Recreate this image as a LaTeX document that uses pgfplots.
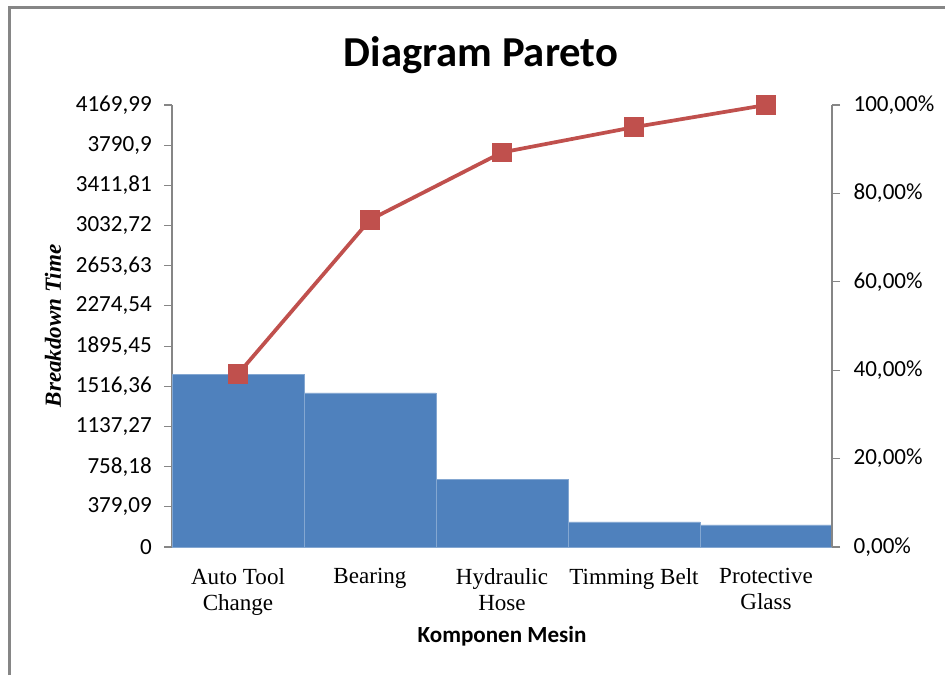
\documentclass[border=0pt]{standalone}
\usepackage{pgfplots}
\pgfplotsset{compat=1.18}
\usepackage{fontspec}
\setmainfont{Liberation Serif}
\newfontfamily\calibri{Carlito}
\definecolor{barblue}{HTML}{4F81BD}
\definecolor{linered}{HTML}{C0504D}
\definecolor{axgray}{HTML}{868686}
\begin{document}
\begin{tikzpicture}
\useasboundingbox (0,0) rectangle (708.75pt,-506.25pt);
\draw[axgray, line width=1.6pt] (7.1pt,-506.25pt) -- (7.1pt,-5.6pt) -- (708.75pt,-5.6pt);
\node[anchor=base, font=\calibri\bfseries\fontsize{32}{36}\selectfont] at (360.75pt,-49.5pt) {Diagram Pareto};
\begin{axis}[
  at={(129pt,-410.25pt)}, anchor=south west,
  scale only axis, width=495pt, height=331.5pt,
  xmin=-0.5, xmax=4.5, ymin=0, ymax=4169.99,
  axis y line*=left, axis x line*=bottom,
  axis line style={axgray, line width=0.8pt},
  tick style={axgray, line width=0.8pt},
  tick align=outside, major tick length=6pt,
  xtick={0,1,2,3,4},
  xticklabels={{Auto Tool\\Change},{Bearing},{Hydraulic\\Hose},{Timming Belt},{Protective\\Glass}},
  xticklabel style={align=center, anchor=north, inner sep=0pt, yshift=-10pt,
    font=\fontsize{17.3}{19.5}\selectfont},
  major x tick style={draw=none},
  ytick={0,379.09,758.18,1137.27,1516.36,1895.45,2274.54,2653.63,3032.72,3411.81,3790.9,4169.99},
  yticklabels={{0},{379,09},{758,18},{1137,27},{1516,36},{1895,45},{2274,54},{2653,63},{3032,72},{3411,81},{3790,9},{4169,99}},
  yticklabel style={font=\calibri\fontsize{17.3}{20}\selectfont, inner sep=0pt, xshift=-9pt},
  ylabel={\textbf{\textit{Breakdown Time}}},
  ylabel style={at={(axis description cs:-0.1803,0.5)}, anchor=center, rotate=0,
    font=\fontsize{17.3}{20}\selectfont},
  xlabel={Komponen Mesin},
  xlabel style={at={(axis description cs:0.5,-0.2014)}, anchor=center,
    font=\calibri\bfseries\fontsize{17.3}{20}\selectfont},
]
\addplot[ybar, bar width=1, fill=barblue, draw=barblue!70!white, line width=0.3pt]
  coordinates {(0,1632) (1,1455) (2,636) (3,238) (4,209)};
\end{axis}
\begin{axis}[
  at={(129pt,-410.25pt)}, anchor=south west,
  scale only axis, width=495pt, height=331.5pt,
  xmin=-0.5, xmax=4.5, ymin=0, ymax=100,
  axis y line*=right, axis x line=none,
  axis line style={axgray, line width=0.8pt},
  tick style={axgray, line width=0.8pt},
  tick align=outside, major tick length=6pt,
  ytick={0,20,40,60,80,100},
  yticklabels={{0,00\%},{20,00\%},{40,00\%},{60,00\%},{80,00\%},{100,00\%}},
  yticklabel style={font=\calibri\fontsize{17.3}{20}\selectfont, inner sep=0pt, xshift=10pt},
  clip=false,
]
\addplot[linered, line width=2.8pt, mark=square*, mark size=7pt,
  mark options={fill=linered, draw=linered, line width=0pt}]
  coordinates {(0,39.14) (1,74.03) (2,89.28) (3,94.99) (4,100)};
\end{axis}
\end{tikzpicture}
\end{document}
